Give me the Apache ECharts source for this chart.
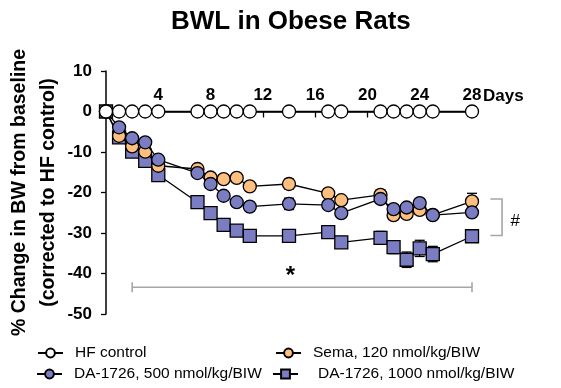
<!DOCTYPE html>
<html>
<head>
<meta charset="utf-8">
<script src="https://cdn.jsdelivr.net/npm/echarts@6/dist/echarts.min.js"></script>
<style>html,body{margin:0;padding:0;background:#fff}#c{width:561px;height:388px}</style>
</head>
<body>
<div id="c"></div>
<script>
// ---- data ----
var days = [0, 1, 2, 3, 4, 7, 8, 9, 10, 11, 14, 17, 18, 21, 22, 23, 24, 25, 28];
var xTicks = [4, 8, 12, 16, 20, 24, 28];
var yTicks = [10, 0, -10, -20, -30, -40, -50];
var hfControl = [0, 0, 0, 0, 0, 0, 0, 0, 0, 0, 0, 0, 0, 0, 0, 0, 0, 0, 0];
var hfControlErr = [0, 0, 0, 0, 0, 0, 0, 0, 0, 0, 0, 0, 0, 1.0, 1.0, 1.0, 1.0, 1.0, 1.2];
var sema = [0, -6.0, -8.6, -9.9, -13.4, -14.2, -16.3, -16.7, -16.4, -18.5, -17.9, -20.2, -21.9, -20.6, -25.6, -25.3, -24.3, -25.5, -22.2];
var semaErr = [0, 0, 0, 0, 0, 0, 0, 0, 0, 0, 1.2, 0.5, 0.5, 1.2, 1.1, 1.0, 1.0, 0.6, 2.0];
var da500 = [0, -3.9, -6.6, -7.6, -11.9, -15.2, -17.9, -20.8, -22.4, -23.5, -22.8, -23.1, -25.1, -21.6, -24.1, -23.7, -22.6, -25.6, -24.9];
var da500Err = [0, 0, 0, 0, 0, 0, 0, 0, 0, 0, 1.4, 0.5, 0.5, 0.8, 0.6, 0.6, 0.6, 0.5, 0.8];
var da1000 = [0, -6.4, -9.9, -12.2, -15.7, -22.4, -25.1, -28.0, -29.4, -30.7, -30.7, -29.8, -32.3, -31.2, -33.5, -36.6, -33.8, -35.2, -30.8];
var da1000Err = [0, 0, 0, 0, 0, 0, 0, 0, 0, 0, 0.5, 0.6, 0.6, 1.6, 1.6, 1.9, 2.0, 1.9, 0.8];
var names = ['HF control', 'Sema, 120 nmol/kg/BIW', 'DA-1726, 500 nmol/kg/BIW', 'DA-1726, 1000 nmol/kg/BIW'];
// significance annotations (data coordinates)
var starBar = { from: 2, to: 28, y: -43.4, labelX: 14.1, labelY: -40.8, text: '*' };
var hashBracket = { x: 30.3, tickX: 29.4, top: -21.6, bottom: -30.6, labelX: 31.3, labelY: -27.0, text: '#' };

var BLUE = '#7B7DC3', ORANGE = '#FFC07F', GRAY = '#A6A6A6';
var FONT = 'Liberation Sans, Arial, sans-serif';

function pairs(vals) { return days.map(function (d, i) { return [d, vals[i]]; }); }
function errData(vals, errs) {
  var out = [];
  days.forEach(function (d, i) { if (errs[i] > 0) out.push([d, vals[i] - errs[i], vals[i] + errs[i]]); });
  return out;
}
function errSeries(vals, errs, z) {
  return {
    type: 'custom', z: z, silent: true,
    data: errData(vals, errs),
    encode: { x: 0, y: [1, 2] },
    renderItem: function (params, api) {
      var lo = api.coord([api.value(0), api.value(1)]);
      var hi = api.coord([api.value(0), api.value(2)]);
      var w = 5;
      var st = { stroke: '#000', lineWidth: 1.3 };
      return { type: 'group', children: [
        { type: 'line', shape: { x1: lo[0], y1: lo[1], x2: hi[0], y2: hi[1] }, style: st },
        { type: 'line', shape: { x1: lo[0] - w, y1: lo[1], x2: lo[0] + w, y2: lo[1] }, style: st },
        { type: 'line', shape: { x1: hi[0] - w, y1: hi[1], x2: hi[0] + w, y2: hi[1] }, style: st }
      ] };
    }
  };
}
function lineSeries(name, vals, symbol, color, z) {
  return {
    name: name, type: 'line', z: z, data: pairs(vals),
    symbol: symbol, symbolSize: 13,
    showAllSymbol: true, clip: false,
    lineStyle: { color: '#000', width: 1.3 },
    itemStyle: { color: color, borderColor: '#000', borderWidth: 1.3 },
    emphasis: { disabled: true }
  };
}

var chart = echarts.init(document.getElementById('c'), null, { renderer: 'canvas' });
function legendAt(name, left, top, pad) {
  return {
    data: [name], left: left, top: top, padding: 0,
    itemWidth: 25, itemHeight: 11, selectedMode: false,
    textStyle: { fontFamily: FONT, fontSize: 15.5, color: '#000', padding: [0, 0, 0, pad] }
  };
}

var GRID = { left: 106, right: 89, top: 71, bottom: 74, outerBoundsMode: 'none', containLabel: false };

function buildOption(xOffset) {
  return {
    animation: false,
    backgroundColor: '#fff',
    title: {
      text: 'BWL in Obese Rats', left: 166, top: 4,
      textStyle: { fontFamily: FONT, fontWeight: 'bold', fontSize: 26, color: '#000' }
    },
    legend: [
      legendAt(names[0], 37, 345, 7),
      legendAt(names[1], 275, 345, 7),
      legendAt(names[2], 36, 366, 7),
      legendAt(names[3], 272, 366, 15)
    ],
    grid: GRID,
    xAxis: {
      type: 'value', min: 0, max: 28, interval: 4, position: 'top', offset: xOffset,
      name: 'Days', nameLocation: 'end', nameGap: 11, nameMoveOverlap: false,
      nameTextStyle: { fontFamily: FONT, fontWeight: 'bold', fontSize: 17, color: '#000', verticalAlign: 'bottom', padding: [0, 0, 7, 0] },
      axisLine: { onZero: false, lineStyle: { color: '#000', width: 1.5 } },
      axisTick: { show: true, inside: true, length: 6, lineStyle: { color: '#000', width: 1.3 } },
      axisLabel: {
        inside: false, margin: 8, fontFamily: FONT, fontWeight: 'bold', fontSize: 17, color: '#000',
        formatter: function (v) { return xTicks.indexOf(v) >= 0 ? String(v) : ''; }
      },
      splitLine: { show: false }
    },
    yAxis: {
      type: 'value', min: -50, max: 10, interval: 10,
      name: '% Change in BW from baseline\n(corrected to HF control)',
      nameLocation: 'middle', nameRotate: 90, nameGap: 43, nameMoveOverlap: false,
      nameTextStyle: { fontFamily: FONT, fontWeight: 'bold', fontSize: 19.5, color: '#000', lineHeight: 29, align: 'center' },
      axisLine: { show: true, onZero: false, lineStyle: { color: '#000', width: 1.5 } },
      axisTick: { show: true, length: 5, lineStyle: { color: '#000', width: 1.3 } },
      axisLabel: {
        margin: 14, fontFamily: FONT, fontWeight: 'bold', fontSize: 17, color: '#000',
        formatter: function (v) { return yTicks.indexOf(v) >= 0 ? String(v) : ''; }
      },
      splitLine: { show: false }
    },
    series: [
      errSeries(da1000, da1000Err, 1),
      errSeries(sema, semaErr, 3),
      errSeries(da500, da500Err, 5),
      errSeries(hfControl, hfControlErr, 7),
      lineSeries(names[3], da1000, 'rect', BLUE, 2),
      lineSeries(names[1], sema, 'circle', ORANGE, 4),
      lineSeries(names[2], da500, 'circle', BLUE, 6),
      lineSeries(names[0], hfControl, 'circle', '#fff', 8),
      {
        type: 'custom', silent: true, z: 9, data: [[0, 0]],
        renderItem: function (params, api) {
          var a = api.coord([starBar.from, starBar.y]);
          var b = api.coord([starBar.to, starBar.y]);
          var s = api.coord([starBar.labelX, starBar.labelY]);
          var bt = api.coord([hashBracket.x, hashBracket.top]);
          var bb = api.coord([hashBracket.x, hashBracket.bottom]);
          var tk = api.coord([hashBracket.tickX, hashBracket.top]);
          var h = api.coord([hashBracket.labelX, hashBracket.labelY]);
          var gs = { stroke: GRAY, lineWidth: 1.6 };
          return { type: 'group', children: [
            { type: 'line', shape: { x1: a[0], y1: a[1], x2: b[0], y2: b[1] }, style: gs },
            { type: 'line', shape: { x1: a[0], y1: a[1] - 5, x2: a[0], y2: a[1] + 5 }, style: gs },
            { type: 'line', shape: { x1: b[0], y1: b[1] - 5, x2: b[0], y2: b[1] + 5 }, style: gs },
            { type: 'text', x: s[0], y: s[1], style: { text: starBar.text, font: 'bold 24px ' + FONT, fill: '#000', align: 'center', verticalAlign: 'middle' } },
            { type: 'polyline', shape: { points: [[tk[0], bt[1]], [bt[0], bt[1]], [bb[0], bb[1]], [tk[0], bb[1]]] }, style: { stroke: GRAY, lineWidth: 1.6, fill: null } },
            { type: 'text', x: h[0], y: h[1], style: { text: hashBracket.text, font: '17px ' + FONT, fill: '#000', align: 'center', verticalAlign: 'middle' } }
          ] };
        }
      }
    ]
  };
}

chart.setOption(buildOption(0));
// move the top x-axis down onto the y = 0 line (offset measured through the y scale)
var yZero = chart.convertToPixel({ yAxisIndex: 0 }, 0);
var yTop = chart.convertToPixel({ yAxisIndex: 0 }, 10);
chart.setOption(buildOption(-(yZero - yTop)), { notMerge: true });
</script>
</body>
</html>
